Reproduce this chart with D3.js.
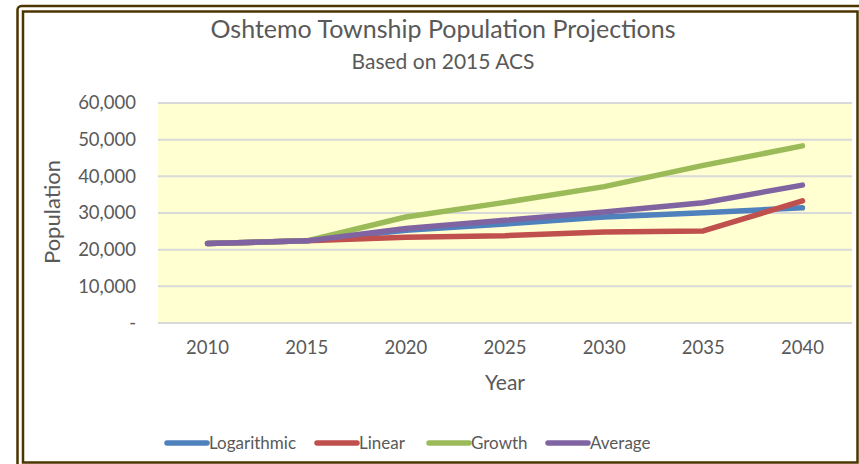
<!DOCTYPE html>
<html>
<head>
<meta charset="utf-8">
<script src="https://cdn.jsdelivr.net/npm/d3@7"></script>
<style>
  body { margin: 0; background: #fff; }
  svg text { font-family: Lato, "Open Sans", sans-serif; fill: #595959; }
</style>
</head>
<body>
<svg id="chart" width="859" height="464"></svg>
<script>
const years = ["2010", "2015", "2020", "2025", "2030", "2035", "2040"];
const logarithmic = [21700, 22400, 25300, 27000, 28900, 30100, 31400];
const linear      = [21700, 22400, 23400, 23800, 24800, 25100, 33300];
const growth      = [21700, 22400, 28900, 32900, 37200, 43000, 48300];
const average     = [21700, 22400, 25800, 28000, 30300, 32800, 37600];
const yTicks = [0, 10000, 20000, 30000, 40000, 50000, 60000];

const seriesNames = ["Logarithmic", "Linear", "Growth", "Average"];
const seriesValues = [logarithmic, linear, growth, average];
const colors = ["#4F81BD", "#C0504D", "#9BBB59", "#8064A2"];

function drawChart(svgId) {
    const svg = d3.select("#" + svgId);
    const margin = { left: 158, right: 7, top: 103, bottom: 141 };
    const width = 859 - margin.left - margin.right;
    const height = 464 - margin.top - margin.bottom;

    // frame
    svg.append("rect")
        .attr("x", 17.5).attr("y", 6).attr("width", 860).attr("height", 470)
        .attr("rx", 4)
        .attr("fill", "none").attr("stroke", "#4d3500").attr("stroke-width", 2.5);
    svg.append("rect")
        .attr("x", 23).attr("y", 11.5).attr("width", 834.5).attr("height", 451)
        .attr("fill", "none").attr("stroke", "#4d3500").attr("stroke-width", 2.5);

    const x = d3.scaleBand().domain(years).range([0, width]);
    const y = d3.scaleLinear().domain([0, 60000]).range([height, 0]);

    const g = svg.append("g")
        .attr("transform", `translate(${margin.left}, ${margin.top})`);

    g.append("rect")
        .attr("width", width).attr("height", height)
        .attr("fill", "#FFFFD2");

    // gridlines
    g.selectAll(".grid")
        .data(yTicks)
        .enter().append("line")
        .attr("x1", 0).attr("x2", width)
        .attr("y1", d => y(d)).attr("y2", d => y(d))
        .attr("stroke", "#D9D9D9").attr("stroke-width", 2);

    // y axis
    const yAxis = g.append("g")
        .call(d3.axisLeft(y).tickValues(yTicks).tickSize(0).tickPadding(22)
            .tickFormat(d => d == 0 ? "-" : d3.format(",")(d)));
    yAxis.select(".domain").remove();
    yAxis.selectAll("text").style("font-size", "18.5px").attr("fill", "#595959");

    // x axis
    const xAxis = g.append("g")
        .attr("transform", `translate(0, ${height})`)
        .call(d3.axisBottom(x).tickSize(0).tickPadding(18));
    xAxis.select(".domain").remove();
    xAxis.selectAll("text").style("font-size", "18.5px").attr("fill", "#595959");

    // lines
    const line = d3.line()
        .x((d, i) => x(years[i]) + x.bandwidth() / 2)
        .y(d => y(d));

    seriesValues.forEach(function(vals, k) {
        g.append("path")
            .datum(vals)
            .attr("d", line)
            .attr("fill", "none")
            .attr("stroke", colors[k])
            .attr("stroke-width", 5.5)
            .attr("stroke-linecap", "round")
            .attr("stroke-linejoin", "round");
    });

    // titles
    svg.append("text").text("Oshtemo Township Population Projections")
        .attr("x", 443).attr("y", 38).attr("text-anchor", "middle")
        .style("font-size", "25px");
    svg.append("text").text("Based on 2015 ACS")
        .attr("x", 443).attr("y", 69).attr("text-anchor", "middle")
        .style("font-size", "21px");

    svg.append("text").text("Year")
        .attr("x", 505).attr("y", 390).attr("text-anchor", "middle")
        .style("font-size", "21px");
    svg.append("text").text("Population")
        .attr("transform", "translate(60, 212) rotate(-90)")
        .attr("text-anchor", "middle")
        .style("font-size", "22px");

    // legend
    const legendX = [165, 315, 427, 546];
    const legend = svg.selectAll(".legend")
        .data(seriesNames)
        .enter().append("g")
        .attr("class", "legend")
        .attr("transform", (d, i) => `translate(${legendX[i]}, 443)`);
    legend.append("line")
        .attr("x1", 2).attr("x2", 42).attr("y1", 0).attr("y2", 0)
        .attr("stroke", (d, i) => colors[i]).attr("stroke-width", 5.5)
        .attr("stroke-linecap", "round");
    legend.append("text")
        .text(d => d)
        .attr("x", 44).attr("y", 6)
        .style("font-size", "17px");
}

drawChart("chart");
</script>
</body>
</html>
